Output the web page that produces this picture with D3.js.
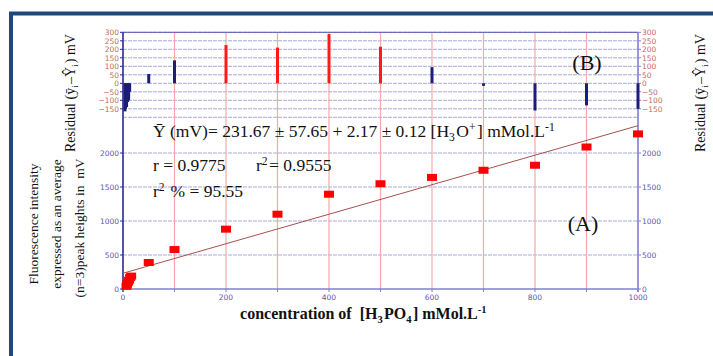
<!DOCTYPE html>
<html><head><meta charset="utf-8">
<script src="https://cdn.jsdelivr.net/npm/d3@7"></script>
<style>body{margin:0;background:#fff}svg{display:block}text{white-space:pre}</style>
</head><body>
<svg id="c" width="713" height="356"></svg>
<script>
// ---- data ----
const conc      = [1, 2, 4, 6, 8, 10, 50, 100, 200, 300, 400, 500, 600, 700, 800, 900, 1000];
const intensity = [40, 70, 100, 130, 170, 190, 390, 580, 880, 1100, 1394, 1548, 1641, 1746, 1820, 2088, 2281];
const residual  = [-165, -150, -140, -110, -100, -50, 55, 135, 225, 210, 290, 215, 95, -15, -160, -130, -150];
const fitIntercept = 231.67, fitSlope = 2.17;
const xTicks = [0, 200, 400, 600, 800, 1000];
const xMinor = [100, 200, 300, 400, 500, 600, 700, 800, 900];
const aTicks = [0, 500, 1000, 1500, 2000];
const bTicks = [300, 250, 200, 150, 100, 50, 0, -50, -100, -150];
const bGrid  = [300, 250, 200, 150, 100, 50, 0, -50, -100, -150, -200];

const svg = d3.select("#c");
const serif = "'Liberation Serif','Times New Roman',serif";
const sans = "'DejaVu Sans',Verdana,sans-serif";

const x  = d3.scaleLinear().domain([0, 1000]).range([123, 638]);
const yA = d3.scaleLinear().domain([0, 2000]).range([289, 153]);
const yB = d3.scaleLinear().domain([-200, 300]).range([117.3, 32.3]);

// frame
svg.append("path").attr("d", "M11,356V13.5H713").attr("fill", "none")
  .attr("stroke", "#1F497D").attr("stroke-width", 4);

// horizontal grid
const g = svg.append("g");
g.selectAll(".gb").data(bGrid).join("line")
  .attr("x1", x(0)).attr("x2", x(1000)).attr("y1", d => yB(d)).attr("y2", d => yB(d))
  .attr("stroke", "#a9a9dc").attr("stroke-width", 1).attr("stroke-dasharray", "4,1");
g.selectAll(".ga").data(aTicks.slice(1)).join("line")
  .attr("x1", x(0)).attr("x2", x(1000)).attr("y1", d => yA(d)).attr("y2", d => yA(d))
  .attr("stroke", "#a9a9dc").attr("stroke-width", 1).attr("stroke-dasharray", "4,1");
// top border
svg.append("line").attr("x1", x(0)).attr("x2", x(1000)).attr("y1", yB(300)).attr("y2", yB(300))
  .attr("stroke", "#5555b0").attr("stroke-width", 1);
// vertical red grid
g.selectAll(".gv").data(xMinor).join("line")
  .attr("x1", d => x(d)).attr("x2", d => x(d)).attr("y1", yB(300)).attr("y2", yA(0))
  .attr("stroke", "#f6a8a8").attr("stroke-width", 1.2);

// axes
svg.append("line").attr("x1", x(0)).attr("x2", x(0)).attr("y1", yB(300)).attr("y2", yA(0) + 3)
  .attr("stroke", "#2a2a90").attr("stroke-width", 1.6);
svg.append("line").attr("x1", x(1000)).attr("x2", x(1000)).attr("y1", yB(300)).attr("y2", yA(0) + 3)
  .attr("stroke", "#7f7fcc").attr("stroke-width", 1.6);
svg.append("line").attr("x1", x(0)).attr("x2", x(1000)).attr("y1", yA(0)).attr("y2", yA(0))
  .attr("stroke", "#7f7fcc").attr("stroke-width", 1.6);

// x ticks
svg.selectAll(".xt").data(xMinor.concat([0, 1000])).join("line")
  .attr("x1", d => x(d)).attr("x2", d => x(d)).attr("y1", yA(0)).attr("y2", yA(0) + 3)
  .attr("stroke", "#7f7fcc");
svg.selectAll(".xl").data(xTicks).join("text")
  .attr("x", d => x(d)).attr("y", yA(0) + 11).attr("text-anchor", "middle")
  .attr("font-family", sans).attr("font-size", 7.5).attr("fill", "#5a5aa8").text(d => d);

// y tick labels both sides
[["left", x(0) - 4, "end", -1], ["right", x(1000) + 4, "start", 1]].forEach(([side, tx, anchor, dir]) => {
  svg.selectAll(".ta" + side).data(aTicks).join("text")
    .attr("x", tx).attr("y", d => yA(d) + 3).attr("text-anchor", anchor)
    .attr("font-family", sans).attr("font-size", 7.5).attr("fill", "#5a5aa8").text(d => d);
  svg.selectAll(".tb" + side).data(bTicks).join("text")
    .attr("x", tx).attr("y", d => yB(d) + 3).attr("text-anchor", anchor)
    .attr("font-family", sans).attr("font-size", 7.5).attr("fill", "#c86a5a")
    .text(d => d < 0 ? "\u2212" + Math.abs(d) : d);
  const ax = side === "left" ? x(0) : x(1000);
  svg.selectAll(".tk" + side).data(aTicks.map(yA).concat(bTicks.map(yB))).join("line")
    .attr("x1", ax).attr("x2", ax + dir * 3).attr("y1", d => d).attr("y2", d => d)
    .attr("stroke", side === "left" ? "#2a2a90" : "#7f7fcc");
});

// residual bars
const bw = 3;
svg.selectAll(".rb").data(conc.map((c, i) => ({c, r: residual[i]}))).join("rect")
  .attr("x", d => x(d.c) - bw / 2 + (d.c < 20 ? 1.5 : 0))
  .attr("width", bw)
  .attr("y", d => d.r >= 0 ? yB(d.r) : yB(0))
  .attr("height", d => Math.max(2, Math.abs(yB(d.r) - yB(0))))
  .attr("fill", d => d.r > 150 ? "#ff1a1a" : "#1c1c7a");

// fit line
svg.append("line")
  .attr("x1", x(0)).attr("y1", yA(fitIntercept))
  .attr("x2", x(1000)).attr("y2", yA(fitIntercept + fitSlope * 1000))
  .attr("stroke", "#a4524c").attr("stroke-width", 1);

// data points
svg.selectAll(".pt").data(conc.map((c, i) => ({c, v: intensity[i]}))).join("rect")
  .attr("x", d => x(d.c) - 5 + (d.c < 20 ? 3 : 0)).attr("y", d => yA(d.v) - 3.5)
  .attr("width", 10).attr("height", 7).attr("fill", "#ff0000");

// annotations
function txt(xp, yp, size, parts, opts = {}) {
  const t = svg.append("text").attr("x", xp).attr("y", yp)
    .attr("font-family", serif).attr("font-size", size).attr("fill", "#111");
  if (opts.bold) t.attr("font-weight", "bold");
  if (opts.anchor) t.attr("text-anchor", opts.anchor);
  if (opts.rotate) t.attr("transform", `rotate(-90,${xp},${yp})`);
  parts.forEach(p => {
    if (typeof p === "string") t.append("tspan").text(p);
    else {
      const dy = p.sub ? size * 0.22 : -size * 0.36;
      t.append("tspan").attr("dy", dy).attr("font-size", size * 0.66).text(p.t);
      t.append("tspan").attr("dy", -dy).text("\u200a");
    }
  });
  return t;
}
txt(153, 137, 17.5, ["\u0232 (mV)= 231.67 \u00b1 57.65 + 2.17 \u00b1 0.12 [H", {sub: 1, t: "3"}, "O", {t: "+"}, "] mMol.L", {t: "-1"}]);
txt(153, 171, 17.5, ["r = 0.9775"]);
txt(256, 171, 17.5, ["r", {t: "2"}, "= 0.9555"]);
txt(153, 197, 17.5, ["r", {t: "2"}, " % = 95.55"]);
txt(583, 231, 22, ["(A)"], {anchor: "middle"});
txt(587, 70, 22, ["(B)"], {anchor: "middle"});
txt(364, 319, 16, ["concentration of  [H", {sub: 1, t: "3"}, "PO", {sub: 1, t: "4"}, "] mMol.L", {t: "-1"}], {bold: true, anchor: "middle"});

// y titles
txt(38, 224, 13.5, ["Fluorescence intensity"], {anchor: "middle", rotate: true});
txt(61, 224, 13.5, ["expressed as an average"], {anchor: "middle", rotate: true});
txt(84, 228, 13.5, ["(n=3)peak heights in  mV"], {anchor: "middle", rotate: true});
txt(75, 93, 14, ["Residual (\u0233", {sub: 1, t: "i"}, "\u2013\u0176", {sub: 1, t: "i"}, ") mV"], {anchor: "middle", rotate: true});
txt(705, 93, 14, ["Residual (\u0233", {sub: 1, t: "i"}, "\u2013\u0176", {sub: 1, t: "i"}, ") mV"], {anchor: "middle", rotate: true});
</script>
</body></html>
